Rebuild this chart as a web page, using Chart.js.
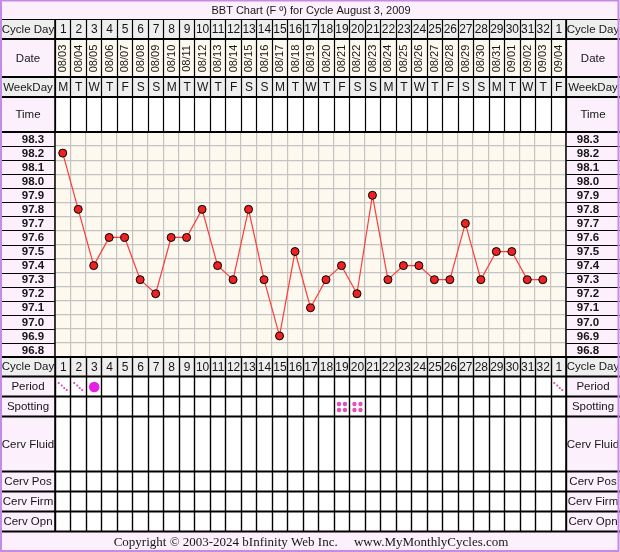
<!DOCTYPE html>
<html><head><meta charset="utf-8">
<script src="https://cdn.jsdelivr.net/npm/chart.js@4.4.0/dist/chart.umd.min.js"></script>
<style>html,body{margin:0;padding:0;background:#fff}canvas{display:block}</style>
</head><body>
<canvas id="c" width="620" height="552"></canvas>
<script>
// ---- data ----
const chartTitle = 'BBT Chart (F º) for Cycle August 3, 2009';
const copyrightText = 'Copyright © 2003-2024 bInfinity Web Inc.     www.MyMonthlyCycles.com';
const cycleDays = ['1','2','3','4','5','6','7','8','9','10','11','12','13','14','15','16','17','18','19','20','21','22','23','24','25','26','27','28','29','30','31','32','1'];
const dates = ['08/03','08/04','08/05','08/06','08/07','08/08','08/09','08/10','08/11','08/12','08/13','08/14','08/15','08/16','08/17','08/18','08/19','08/20','08/21','08/22','08/23','08/24','08/25','08/26','08/27','08/28','08/29','08/30','08/31','09/01','09/02','09/03','09/04'];
const weekDays = ['M','T','W','T','F','S','S','M','T','W','T','F','S','S','M','T','W','T','F','S','S','M','T','W','T','F','S','S','M','T','W','T','F'];
const temps = [98.2,97.8,97.4,97.6,97.6,97.3,97.2,97.6,97.6,97.8,97.4,97.3,97.8,97.3,96.9,97.5,97.1,97.3,97.4,97.2,97.9,97.3,97.4,97.4,97.3,97.3,97.7,97.3,97.5,97.5,97.3,97.3,null];
const tempLabels = ['98.3','98.2','98.1','98.0','97.9','97.8','97.7','97.6','97.5','97.4','97.3','97.2','97.1','97.0','96.9','96.8'];
const periodMarks = ['light','light','heavy',null,null,null,null,null,null,null,null,null,null,null,null,null,null,null,null,null,null,null,null,null,null,null,null,null,null,null,null,null,'light'];
const spottingMarks = [0,0,0,0,0,0,0,0,0,0,0,0,0,0,0,0,0,0,1,1,0,0,0,0,0,0,0,0,0,0,0,0,0];

// ---- layout ----
const W = 620, H = 552;
const LEFT = 55, RIGHT = 566, TOP = 132, BOTTOM = 357;
const LCX = 28, RCX = 593;
const PINK = '#fcf0fc', GRAY = '#eeeeee', CREAM = '#fdf9ee', BORDER = '#c58ae6';
const TEXT = '#161616';
const FONT = '"Liberation Sans", Arial, sans-serif';
const topRows = [
  {name:'Cycle Day', y0:20, y1:39, bg:GRAY, lbg:GRAY, cells:cycleDays},
  {name:'Date', y0:39, y1:77, bg:CREAM, lbg:PINK, cells:dates, rotate:true},
  {name:'WeekDay', y0:77, y1:97, bg:GRAY, lbg:GRAY, cells:weekDays},
  {name:'Time', y0:97, y1:132, bg:'#ffffff', lbg:PINK, cells:null}
];
const bottomRows = [
  {name:'Cycle Day', y0:357, y1:376.5, bg:GRAY, lbg:GRAY, cells:cycleDays},
  {name:'Period', y0:376.5, y1:396.5, bg:'#ffffff', lbg:PINK, cells:null, marks:'period'},
  {name:'Spotting', y0:396.5, y1:416.5, bg:'#ffffff', lbg:PINK, cells:null, marks:'spot'},
  {name:'Cerv Fluid', y0:416.5, y1:471.5, bg:'#ffffff', lbg:PINK, cells:null},
  {name:'Cerv Pos', y0:471.5, y1:491.5, bg:'#ffffff', lbg:PINK, cells:null},
  {name:'Cerv Firm', y0:491.5, y1:511.5, bg:'#ffffff', lbg:PINK, cells:null},
  {name:'Cerv Opn', y0:511.5, y1:531.5, bg:'#ffffff', lbg:PINK, cells:null}
];
const halfSteps = [];
for (let i = 0; i <= tempLabels.length; i++) halfSteps.push(+(96.75 + i * 0.1).toFixed(2));

function hline(ctx, x0, x1, y, w, c) {
  ctx.strokeStyle = c; ctx.lineWidth = w;
  ctx.beginPath(); ctx.moveTo(x0, y); ctx.lineTo(x1, y); ctx.stroke();
}
function vline(ctx, x, y0, y1, w, c) {
  ctx.strokeStyle = c; ctx.lineWidth = w;
  ctx.beginPath(); ctx.moveTo(x, y0); ctx.lineTo(x, y1); ctx.stroke();
}
function dot(ctx, x, y, r, c) {
  ctx.fillStyle = c; ctx.beginPath(); ctx.arc(x, y, r, 0, Math.PI * 2); ctx.fill();
}
function text(ctx, s, x, y, font) {
  ctx.fillStyle = TEXT; ctx.font = font; ctx.fillText(s, x, y);
}

const tablePlugin = {
  id: 'table',
  beforeDraw(chart) {
    const ctx = chart.ctx;
    const ca = chart.chartArea;
    ctx.save();
    ctx.fillStyle = '#ffffff'; ctx.fillRect(0, 0, W, H);
    ctx.fillStyle = PINK; ctx.fillRect(0, 0, W, 20);
    ctx.fillRect(0, 531, W, 21);
    for (const r of topRows.concat(bottomRows)) {
      ctx.fillStyle = r.bg; ctx.fillRect(LEFT, r.y0, RIGHT - LEFT, r.y1 - r.y0);
      ctx.fillStyle = r.lbg; ctx.fillRect(0, r.y0, LEFT, r.y1 - r.y0);
      ctx.fillRect(RIGHT, r.y0, W - RIGHT, r.y1 - r.y0);
    }
    ctx.fillStyle = PINK;
    ctx.fillRect(0, TOP, LEFT, BOTTOM - TOP);
    ctx.fillRect(RIGHT, TOP, W - RIGHT, BOTTOM - TOP);
    ctx.fillStyle = CREAM; ctx.fillRect(ca.left, ca.top, ca.width, ca.height);
    ctx.restore();
  },
  afterDraw(chart) {
    const ctx = chart.ctx;
    const xs = chart.scales.x, ys = chart.scales.y;
    const n = cycleDays.length;
    const half = (xs.getPixelForValue(1) - xs.getPixelForValue(0)) / 2;
    ctx.save();
    for (let i = 0; i <= n; i++) {
      const x = Math.round(xs.getPixelForValue(0) - half + i * 2 * half) + 0.5;
      vline(ctx, x, 20, TOP, 1.2, '#000');
      vline(ctx, x, BOTTOM, 531.5, 1.4, '#000');
    }
    vline(ctx, LEFT, 20, 531.5, 1.5, '#000');
    vline(ctx, RIGHT, 20, 531.5, 1.5, '#000');
    hline(ctx, 0, W, 19.5, 1.2, '#000');
    for (const r of topRows) hline(ctx, 0, W, r.y1, 2, '#000');
    for (const r of bottomRows) hline(ctx, 0, W, r.y0, 2, '#000');
    hline(ctx, 0, W, 531.5, 2, '#000');
    for (const v of halfSteps) {
      const y = Math.round(ys.getPixelForValue(v)) + 0.5;
      hline(ctx, 0, LEFT, y, 1.2, '#000');
      hline(ctx, RIGHT, W, y, 1.2, '#000');
    }
    ctx.textAlign = 'center'; ctx.textBaseline = 'middle';
    text(ctx, chartTitle, 311, 10.5, '11px ' + FONT);
    for (const r of topRows.concat(bottomRows)) {
      const cy = (r.y0 + r.y1) / 2 + 0.5;
      text(ctx, r.name, LCX, cy, '11.5px ' + FONT);
      text(ctx, r.name, RCX, cy, '11.5px ' + FONT);
      if (r.cells) {
        for (let i = 0; i < n; i++) {
          const x = xs.getPixelForValue(i);
          if (r.rotate) {
            ctx.save(); ctx.translate(x + 0.5, cy); ctx.rotate(-Math.PI / 2);
            text(ctx, r.cells[i], 0, 0, '11px ' + FONT); ctx.restore();
          } else {
            text(ctx, r.cells[i], x + 0.5, cy, '12px ' + FONT);
          }
        }
      }
      if (r.marks === 'period') {
        for (let i = 0; i < n; i++) {
          const x = xs.getPixelForValue(i);
          if (periodMarks[i] === 'heavy') dot(ctx, x + 0.5, cy, 5.3, '#e61ee6');
          else if (periodMarks[i] === 'light') {
            [[-4,-4],[-1,-1.5],[1.5,1],[4,3]].forEach(p => dot(ctx, x + p[0], cy + p[1], 1.1, '#e040b0'));
          }
        }
      }
      if (r.marks === 'spot') {
        for (let i = 0; i < n; i++) {
          if (!spottingMarks[i]) continue;
          const x = xs.getPixelForValue(i);
          [[-3,-3],[3,-3],[-3,3],[3,3]].forEach(p => dot(ctx, x + 0.5 + p[0], cy + p[1], 2.2, '#e550b5'));
        }
      }
    }
    tempLabels.forEach(t => {
      const y = ys.getPixelForValue(parseFloat(t)) + 0.5;
      text(ctx, t, 33, y, 'bold 11.5px ' + FONT);
      text(ctx, t, 588, y, 'bold 11.5px ' + FONT);
    });
    text(ctx, copyrightText, 311, 542.5, '13px "Liberation Serif", "Times New Roman", serif');
    ctx.strokeStyle = BORDER; ctx.lineWidth = 2;
    ctx.strokeRect(1, 0.5, W - 2.5, H - 1.5);
    ctx.restore();
  }
};

new Chart(document.getElementById('c'), {
  type: 'line',
  data: {
    labels: cycleDays,
    datasets: [{
      data: temps,
      borderColor: '#ff3b3b',
      borderWidth: 1.2,
      pointBackgroundColor: '#ee2222',
      pointBorderColor: '#000000',
      pointBorderWidth: 1,
      pointRadius: 4,
      tension: 0,
      spanGaps: false
    }]
  },
  options: {
    responsive: false,
    animation: false,
    devicePixelRatio: 1,
    layout: { padding: { left: LEFT, right: W - RIGHT, top: TOP, bottom: H - BOTTOM } },
    plugins: { legend: { display: false }, tooltip: { enabled: false }, title: { display: false } },
    scales: {
      x: {
        offset: true,
        grid: { offset: true, color: '#c4c4c4', lineWidth: 1.2, drawTicks: false },
        ticks: { display: false },
        border: { display: false }
      },
      y: {
        min: 96.75, max: 98.35,
        afterBuildTicks: (scale) => { scale.ticks = halfSteps.map(v => ({ value: v })); },
        grid: { color: '#c4c4c4', lineWidth: 1.2, drawTicks: false },
        ticks: { display: false },
        border: { display: false }
      }
    }
  },
  plugins: [tablePlugin]
});
</script>
</body></html>
